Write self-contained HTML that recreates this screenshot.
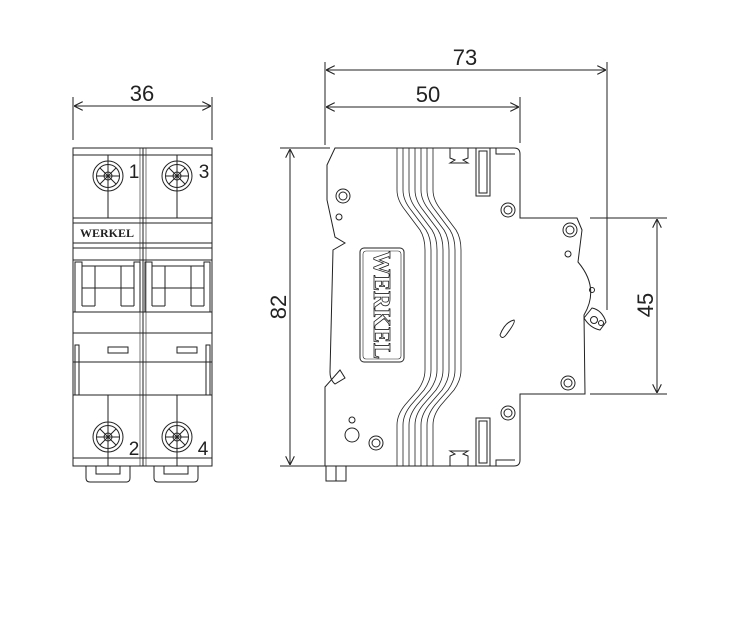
<!DOCTYPE html>
<html><head><meta charset="utf-8"><style>
html,body{margin:0;padding:0;background:#fff;}
svg{display:block;}
text{font-family:"Liberation Sans",sans-serif;fill:#222;}
</style></head><body>
<svg width="754" height="622" viewBox="0 0 754 622" xmlns="http://www.w3.org/2000/svg">
<defs>
<marker id="a" viewBox="0 0 10 10" refX="10" refY="5" markerWidth="9" markerHeight="9" orient="auto-start-reverse" markerUnits="userSpaceOnUse"><path d="M0,0 L10,5 L0,10" fill="none" stroke="#222" stroke-width="1.2"/></marker>
</defs>
<g stroke="#222" stroke-width="1" fill="none">
<line x1="325" y1="62" x2="325" y2="145"/>
<line x1="607" y1="62" x2="607" y2="310"/>
<line x1="520" y1="97" x2="520" y2="143"/>
<line x1="326" y1="70" x2="606" y2="70" marker-start="url(#a)" marker-end="url(#a)"/>
<line x1="326" y1="107" x2="519" y2="107" marker-start="url(#a)" marker-end="url(#a)"/>
<line x1="73" y1="97" x2="73" y2="140"/>
<line x1="212" y1="97" x2="212" y2="140"/>
<line x1="74" y1="106" x2="211" y2="106" marker-start="url(#a)" marker-end="url(#a)"/>
<line x1="280" y1="148" x2="330" y2="148"/>
<line x1="280" y1="466" x2="325" y2="466"/>
<line x1="290" y1="149" x2="290" y2="465" marker-start="url(#a)" marker-end="url(#a)"/>
<line x1="590" y1="218" x2="667" y2="218"/>
<line x1="590" y1="394" x2="667" y2="394"/>
<line x1="657" y1="219" x2="657" y2="393" marker-start="url(#a)" marker-end="url(#a)"/>

<rect x="73" y="148" width="139" height="318"/>
<line x1="143" y1="148" x2="143" y2="466"/>
<line x1="140" y1="148" x2="140" y2="466" stroke-width="0.6"/>
<line x1="146" y1="148" x2="146" y2="466" stroke-width="0.6"/>
<line x1="73" y1="155" x2="212" y2="155"/>
<line x1="73" y1="218" x2="212" y2="218"/>
<line x1="73" y1="223" x2="212" y2="223"/>
<line x1="73" y1="243" x2="212" y2="243"/>
<line x1="73" y1="248" x2="212" y2="248"/>
<line x1="73" y1="260" x2="212" y2="260"/>
<line x1="73" y1="312" x2="212" y2="312"/>
<line x1="73" y1="333" x2="212" y2="333"/>
<line x1="73" y1="362" x2="212" y2="362"/>
<line x1="73" y1="395" x2="212" y2="395"/>
<line x1="73" y1="458" x2="212" y2="458"/>
<g id="h">
<path d="M75,312 L75,262 L82,262 L82,266 L134,266 L134,262 L140,262 L140,312"/>
<line x1="82" y1="266" x2="82" y2="306"/><line x1="134" y1="266" x2="134" y2="306"/>
<line x1="95" y1="266" x2="95" y2="306"/><line x1="121" y1="266" x2="121" y2="306"/>
<line x1="95" y1="288" x2="121" y2="288"/>
<line x1="82" y1="306" x2="95" y2="306"/><line x1="121" y1="306" x2="134" y2="306"/>
<line x1="82" y1="288" x2="95" y2="288"/><line x1="121" y1="288" x2="134" y2="288"/>
</g>
<use href="#h" x="70"/>
<rect x="108" y="347" width="20" height="6"/>
<rect x="177" y="347" width="20" height="6"/>
<rect x="75" y="345" width="4" height="50"/><rect x="206" y="345" width="4" height="50"/>
<g id="s">
<circle cx="108" cy="176" r="15"/><circle cx="108" cy="176" r="11.5"/>
<path d="M100,168 L116,184 M116,168 L100,184 M97,176 L119,176 M108,165 L108,187"/>
<circle cx="108" cy="176" r="4"/>
</g>
<use href="#s" x="69"/>
<use href="#s" y="261"/>
<use href="#s" x="69" y="261"/>
<line x1="108" y1="155" x2="108" y2="218"/><line x1="177" y1="155" x2="177" y2="218"/>
<line x1="108" y1="395" x2="108" y2="466"/><line x1="177" y1="395" x2="177" y2="466"/>
<path d="M86,466 L86,478 Q86,482 90,482 L126,482 Q130,482 130,478 L130,466"/>
<path d="M96,466 L96,474 L120,474 L120,466"/>
<path d="M154,466 L154,478 Q154,482 158,482 L194,482 Q198,482 198,478 L198,466"/>
<path d="M164,466 L164,474 L188,474 L188,466"/>

<path d="M335,148 L514,148 Q520,148 520,154 L520,218 L577,218 L582,230 L578,262 Q600,288 584,315 L585,394 L520,394 L520,460 Q520,466 514,466 L325,466 L325,387 L340,370 L345,378 L335,384 Q330,380 330,372 L333,250 L345,243 L335,237 L327,200 L327,165 Z"/>
<rect x="360" y="248" width="44" height="114" rx="4"/>
<rect x="363" y="251" width="38" height="108" rx="3" stroke-width="0.6"/>
<g stroke-width="0.8">
<path d="M397,148 L397,190 Q397,200 405,210 L420,230 Q425,238 425,250 L425,370 Q425,380 418,390 L405,405 Q397,415 397,425 L397,466"/>
<path d="M403,148 L403,190 Q403,200 411,210 L426,230 Q431,238 431,250 L431,370 Q431,380 424,390 L411,405 Q403,415 403,425 L403,466"/>
<path d="M409,148 L409,190 Q409,200 417,210 L432,230 Q437,238 437,250 L437,370 Q437,380 430,390 L417,405 Q409,415 409,425 L409,466"/>
<path d="M415,148 L415,190 Q415,200 423,210 L438,230 Q443,238 443,250 L443,370 Q443,380 436,390 L423,405 Q415,415 415,425 L415,466"/>
<path d="M421,148 L421,190 Q421,200 429,210 L444,230 Q449,238 449,250 L449,370 Q449,380 442,390 L429,405 Q421,415 421,425 L421,466"/>
<path d="M427,148 L427,190 Q427,200 435,210 L450,230 Q455,238 455,250 L455,370 Q455,380 448,390 L435,405 Q427,415 427,425 L427,466"/>
<path d="M433,148 L433,190 Q433,200 441,210 L456,230 Q461,238 461,250 L461,370 Q461,380 454,390 L441,405 Q433,415 433,425 L433,466"/>
</g>
<rect x="476" y="148" width="14" height="48"/><rect x="479" y="151" width="8" height="42"/>
<rect x="476" y="418" width="14" height="48"/><rect x="479" y="421" width="8" height="42"/>
<path d="M450,148 L450,158 L455,160 L450,163 L468,163 L463,160 L468,158 L468,148"/>
<path d="M450,466 L450,456 L455,454 L450,451 L468,451 L463,454 L468,456 L468,466"/>
<path d="M496,148 L496,154 L515,154"/><path d="M496,466 L496,460 L515,460"/>
<circle cx="343" cy="196" r="7"/><circle cx="343" cy="196" r="4"/>
<circle cx="339" cy="217" r="3"/>
<circle cx="508" cy="210" r="7"/><circle cx="508" cy="210" r="4"/>
<circle cx="570" cy="230" r="7"/><circle cx="570" cy="230" r="4"/>
<circle cx="568" cy="254" r="3"/><circle cx="592" cy="290" r="2.5"/>
<path d="M584,318 L592,308 Q602,310 606,322 L600,330 Q590,328 584,318 Z"/>
<circle cx="594" cy="320" r="3.5"/><circle cx="601" cy="323" r="2.5"/>
<path d="M500,335 Q505,322 514,320 Q516,322 506,335 Q502,340 500,335 Z"/>
<circle cx="568" cy="383" r="7"/><circle cx="568" cy="383" r="4"/>
<circle cx="508" cy="413" r="7"/><circle cx="508" cy="413" r="4"/>
<circle cx="352" cy="420" r="3"/><circle cx="352" cy="435" r="7"/>
<circle cx="376" cy="443" r="7"/><circle cx="376" cy="443" r="4"/>
<rect x="326" y="466" width="20" height="15"/><line x1="336" y1="466" x2="336" y2="481"/>
</g>
<text x="142" y="101" font-size="22" text-anchor="middle">36</text>
<text x="465" y="65" font-size="22" text-anchor="middle">73</text>
<text x="428" y="102" font-size="22" text-anchor="middle">50</text>
<text transform="translate(286,307) rotate(-90)" font-size="22" text-anchor="middle">82</text>
<text transform="translate(653,305) rotate(-90)" font-size="22" text-anchor="middle">45</text>
<text x="134" y="178" font-size="19" text-anchor="middle">1</text>
<text x="204" y="178" font-size="19" text-anchor="middle">3</text>
<text x="134" y="455" font-size="19" text-anchor="middle">2</text>
<text x="203" y="455" font-size="19" text-anchor="middle">4</text>
<text x="107" y="237" font-size="12" font-weight="bold" text-anchor="middle" style="font-family:'Liberation Serif',serif">WERKEL</text>
<text transform="translate(374,305) rotate(90)" font-size="24" font-weight="bold" text-anchor="middle" stroke="#222" stroke-width="0.8" style="font-family:'Liberation Serif',serif;fill:#fff">WERKEL</text>
</svg>
</body></html>
